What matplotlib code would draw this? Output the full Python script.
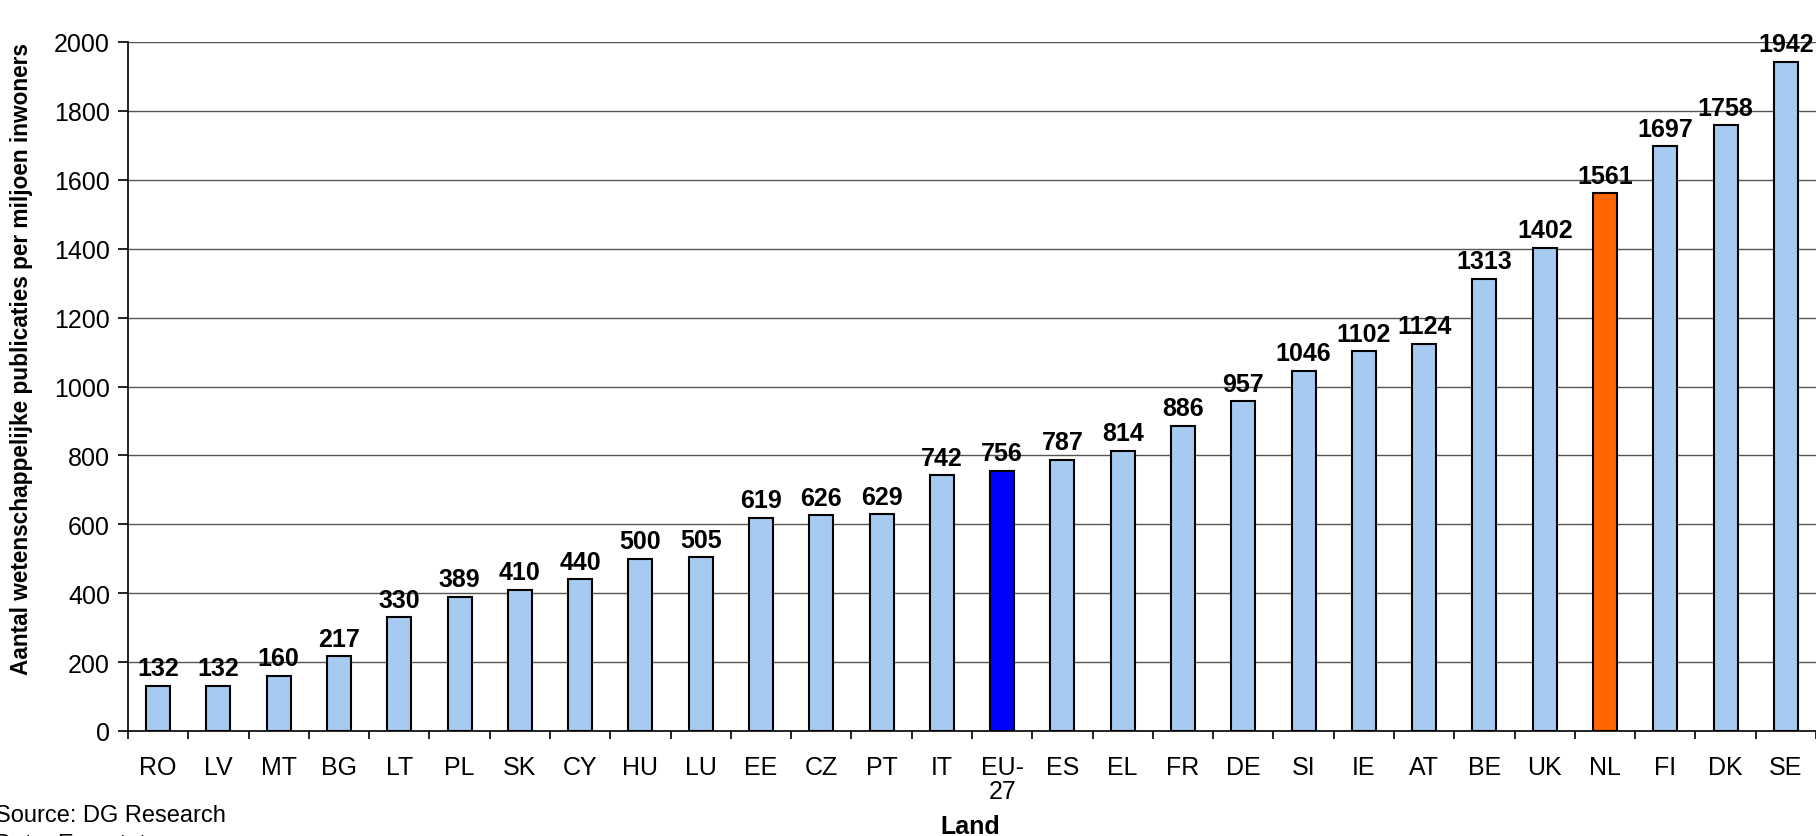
import numpy as np
import matplotlib.pyplot as plt

landen = ['RO', 'LV', 'MT', 'BG', 'LT', 'PL', 'SK', 'CY', 'HU', 'LU', 'EE', 'CZ',
          'PT', 'IT', 'EU-\n27', 'ES', 'EL', 'FR', 'DE', 'SI', 'IE', 'AT', 'BE',
          'UK', 'NL', 'FI', 'DK', 'SE']
publicaties = [132, 132, 160, 217, 330, 389, 410, 440, 500, 505, 619, 626,
               629, 742, 756, 787, 814, 886, 957, 1046, 1102, 1124, 1313,
               1402, 1561, 1697, 1758, 1942]
y_ticks = [0, 200, 400, 600, 800, 1000, 1200, 1400, 1600, 1800, 2000]

kleuren = []
for land in landen:
    if land.startswith('EU'):
        kleuren.append('#0000FF')
    elif land == 'NL':
        kleuren.append('#FF6600')
    else:
        kleuren.append('#A6CAF0')

plt.rcParams['font.family'] = ['Liberation Sans', 'DejaVu Sans']

fig = plt.figure(figsize=(18.16, 8.37), dpi=100)
ax = fig.add_axes([128 / 1816, 1 - 732 / 837, 1 - 128 / 1816, (732 - 43) / 837])

x = np.arange(len(landen))
ax.bar(x, publicaties, width=0.4, color=kleuren, edgecolor='black',
       linewidth=1.5, zorder=3)

for xi, v in zip(x, publicaties):
    ax.text(xi, v + 16, str(v), ha='center', va='bottom', fontsize=18,
            fontweight='bold', clip_on=False, zorder=4)

ax.set_xlim(-0.5, len(landen) - 0.5)
ax.set_ylim(0, 2000)
ax.set_yticks(y_ticks)
ax.tick_params(axis='y', labelsize=18, length=7, width=1.2, direction='out', pad=6)
ax.yaxis.grid(True, color='#555555', linewidth=1, zorder=0)

# ticks tussen de categorieen, labels in het midden
ax.set_xticks(np.arange(len(landen) + 1) - 0.5)
ax.set_xticklabels([])
ax.set_xticks(x, minor=True)
ax.set_xticklabels(landen, minor=True, fontsize=18, linespacing=1.0)
ax.tick_params(axis='x', which='major', length=6, width=1.2, direction='out')
ax.tick_params(axis='x', which='minor', length=0, pad=17)

for s in ['top', 'right']:
    ax.spines[s].set_visible(False)
ax.spines['left'].set_linewidth(1.2)
ax.spines['bottom'].set_linewidth(1.2)

fig.text(0.012, 1 - 359 / 837, 'Aantal wetenschappelijke publicaties per miljoen inwoners',
         rotation=90, ha='center', va='center', fontsize=16.3, fontweight='bold')
fig.text(970 / 1816, 1 - 827 / 837, 'Land', ha='center', va='center',
         fontsize=18, fontweight='bold')
fig.text(-0.003, 1 - 816 / 837, 'Source: DG Research', ha='left',
         va='center', fontsize=17)
fig.text(-0.003, 1 - 845 / 837, 'Data: Eurostat', ha='left',
         va='center', fontsize=17)

fig.savefig('out.png', dpi=100)
